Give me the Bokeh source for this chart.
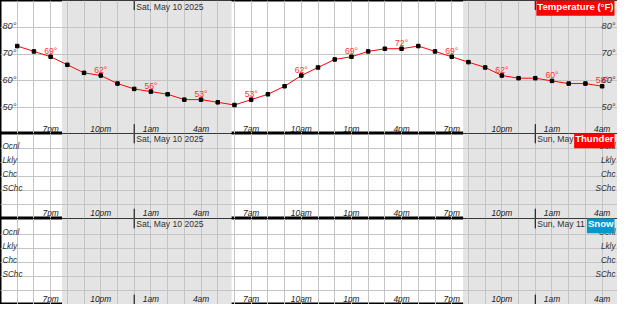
from bokeh.plotting import figure
from bokeh.models import Range1d, Grid, FixedTicker, BoxAnnotation, Label
from bokeh.layouts import column
from bokeh.embed import file_html
from bokeh.resources import INLINE
from bokeh.core.properties import value

# ---------------- data (hours relative to Sat May 10 2025 00:00) ----------------
hours = list(range(-7, 29))  # 5pm Fri ... 4am Sun
temps = [73, 71, 69, 66, 63, 62, 59, 57, 56, 55, 53, 53, 52, 51, 53, 55, 58, 62,
         65, 68, 69, 71, 72, 72, 73, 71, 69, 67, 65, 62, 61, 61, 60, 59, 59, 58]
tick_hours = [-5, -2, 1, 4, 7, 10, 13, 16, 19, 22, 25, 28]
tick_labels = ["7pm", "10pm", "1am", "4am", "7am", "10am", "1pm", "4pm", "7pm", "10pm", "1am", "4am"]
temp_ticks = [50, 60, 70, 80]
temp_tick_labels = ["50°", "60°", "70°", "80°"]
prob_ticks = [80, 60, 40, 20]
prob_labels = ["Ocnl", "Lkly", "Chc", "SChc"]
midnights = [0, 24]
date_labels = ["Sat, May 10 2025", "Sun, May 11 2025"]
night_start = [-4.32, 19.68]   # sunset ~7:41pm
night_end = [5.83, 29.5]       # sunrise ~5:50am
panel_titles = ["Temperature (°F)", "Thunder", "Snow"]
panel_colors = ["#ff0000", "#ff0000", "#0099cc"]

# ---------------- styling ----------------
FONT_NAME = "Liberation Sans"
FONT = value(FONT_NAME)
W = 617
X0, X1 = -8.0, 28.92
GRID = "#c4c4c4"
NIGHT = "#e4e4e4"
TXT = "#222222"

x_range = Range1d(X0, X1)


def base_fig(height, y0, y1, yticks):
    p = figure(width=W, height=height, x_range=x_range, y_range=Range1d(y0, y1),
               x_axis_type=None, y_axis_type=None, output_backend="svg",
               toolbar_location=None, min_border=0)
    p.outline_line_color = "black"
    p.outline_line_width = 2
    p.background_fill_color = "white"
    p.border_fill_color = "white"
    for s, e in zip(night_start, night_end):
        p.add_layout(BoxAnnotation(left=s, right=e, fill_color=NIGHT, fill_alpha=1.0,
                                   line_alpha=0, level="image"))
    p.add_layout(Grid(dimension=0, ticker=FixedTicker(ticks=list(range(-7, 29))),
                      grid_line_color=GRID, grid_line_width=1))
    p.add_layout(Grid(dimension=1, ticker=FixedTicker(ticks=yticks),
                      grid_line_color=GRID, grid_line_width=1))
    return p


def decorate(p, y0, y1, time_y, date_y, top_len, bot_len, title, tcolor, title_y):
    # time labels
    p.text(x=tick_hours, y=[time_y] * len(tick_hours), text=tick_labels,
           text_font=FONT, text_font_style="italic", text_font_size="8.4px",
           text_color=TXT, text_align="center", text_baseline="middle")
    # midnight markers
    p.segment(x0=midnights, y0=[y1] * 2, x1=midnights, y1=[y1 - top_len] * 2,
              line_color="black", line_width=1)
    p.segment(x0=midnights, y0=[y0] * 2, x1=midnights, y1=[y0 + bot_len] * 2,
              line_color="black", line_width=1)
    # date labels
    p.text(x=midnights, y=[date_y] * 2, text=date_labels, x_offset=2,
           text_font=FONT, text_font_size="8.6px", text_color="#333333",
           text_align="left", text_baseline="middle")
    # title box
    p.add_layout(Label(x=X1, y=title_y, x_offset=-3, text=title, text_font=FONT_NAME,
                       text_font_style="bold", text_font_size="9.6px", text_color="white",
                       text_align="right", text_baseline="middle",
                       background_fill_color=tcolor, background_fill_alpha=1.0,
                       padding=(1, 4)))


# ---------------- panel 1 : temperature ----------------
T0, T1 = 40.36, 90.0
p1 = base_fig(133, T0, T1, temp_ticks)
p1.line(hours, temps, line_color="#ff0000", line_width=1)
p1.scatter(hours, temps, marker="square", size=3.5, fill_color="black", line_color="black")
lab_vals = [temps[hours.index(h)] for h in tick_hours]
p1.text(x=tick_hours, y=lab_vals, text=[f"{v}°" for v in lab_vals], y_offset=-6,
        text_font=FONT, text_font_size="8.6px", text_color="#ff3030",
        text_align="center", text_baseline="middle")
p1.text(x=[X0] * 4, y=temp_ticks, text=temp_tick_labels, x_offset=2, y_offset=-1,
        text_font=FONT, text_font_style="italic", text_font_size="9.2px",
        text_color="#333333", text_align="left", text_baseline="middle")
p1.text(x=[X1] * 4, y=temp_ticks, text=temp_tick_labels, x_offset=-2, y_offset=-1,
        text_font=FONT, text_font_style="italic", text_font_size="9.2px",
        text_color="#333333", text_align="right", text_baseline="middle")
decorate(p1, T0, T1, 42.2, 87.5, 3.6, 3.5, panel_titles[0], panel_colors[0], 87.9)

# ---------------- panels 2, 3 : thunder / snow ----------------
P0, P1 = -19.5, 102.0
panels = []
for i, h in ((1, 85), (2, 86)):
    p = base_fig(h, P0, P1, [0, 20, 40, 60, 80])
    p.text(x=[X0] * 4, y=prob_ticks, text=prob_labels, x_offset=2, y_offset=-2,
           text_font=FONT, text_font_style="italic", text_font_size="8.2px",
           text_color="#333333", text_align="left", text_baseline="middle")
    p.text(x=[X1] * 4, y=prob_ticks, text=prob_labels, x_offset=-2, y_offset=-2,
           text_font=FONT, text_font_style="italic", text_font_size="8.2px",
           text_color="#333333", text_align="right", text_baseline="middle")
    decorate(p, P0, P1, -12.0, 94.5, 14.0, 14.0, panel_titles[i], panel_colors[i], 94.5)
    panels.append(p)

layout = column(p1, panels[0], panels[1], spacing=0)
open("out.html", "w").write(file_html(layout, INLINE))
